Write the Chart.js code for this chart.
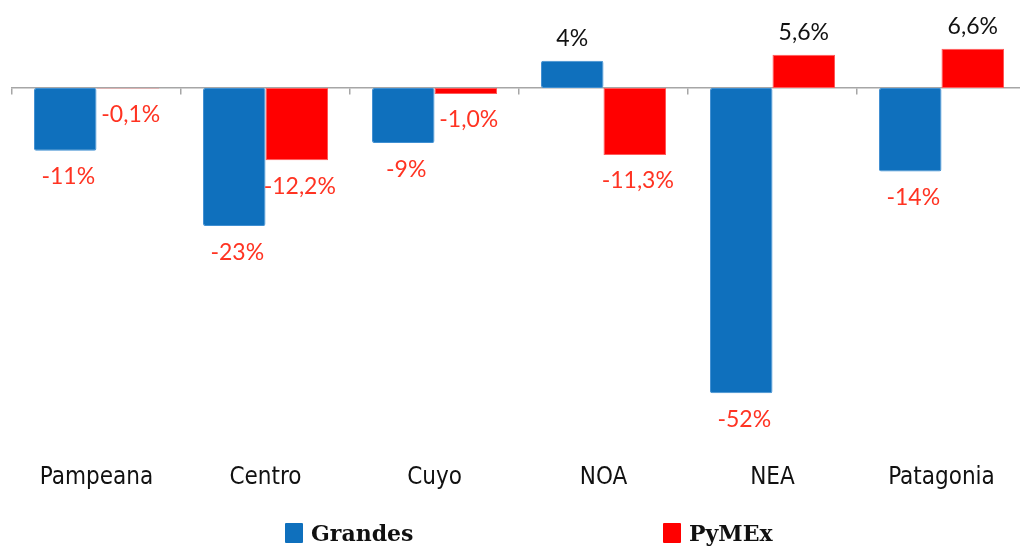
<!DOCTYPE html>
<html>
<head>
<meta charset="utf-8">
<script src="https://cdn.jsdelivr.net/npm/chart.js@4"></script>
<style>
  body { margin: 0; overflow: hidden; background: #fff; }
  #wrap { position: relative; width: 1040px; height: 546px; }
  .leyenda { position: absolute; top: 520px; display: flex; align-items: center;
    font-family: "DejaVu Serif", serif; font-weight: bold; font-size: 22px; color: #111; }
  .leyenda span.caja { display: inline-block; width: 18px; height: 20px; margin-right: 8px; border-radius: 1px; }
</style>
</head>
<body>
<div id="wrap">
  <canvas id="grafico" width="1040" height="546"></canvas>
  <div class="leyenda" style="left:285px"><span class="caja" style="background:#0f70bd"></span>Grandes</div>
  <div class="leyenda" style="left:663px"><span class="caja" style="background:#ff0000"></span>PyMEx</div>
</div>
<script>
// datos por region
const categorias = ['Pampeana', 'Centro', 'Cuyo', 'NOA', 'NEA', 'Patagonia'];
const grandes = [-10.6, -23.3, -9.3, 4.6, -51.5, -14.1];
const pymex = [-0.1, -12.2, -1.0, -11.3, 5.6, 6.6];
const etiquetasGrandes = ['-11%', '-23%', '-9%', '4%', '-52%', '-14%'];
const etiquetasPymex = ['-0,1%', '-12,2%', '-1,0%', '-11,3%', '5,6%', '6,6%'];

// etiquetas encima/debajo de cada barra
const etiquetasPlugin = {
  id: 'etiquetas',
  afterDatasetsDraw(chart) {
    const ctx = chart.ctx;
    const textos = [etiquetasGrandes, etiquetasPymex];
    ctx.save();
    ctx.font = '23px Lato';
    ctx.textAlign = 'center';
    ctx.textBaseline = 'middle';
    chart.data.datasets.forEach((ds, i) => {
      chart.getDatasetMeta(i).data.forEach((bar, j) => {
        const v = ds.data[j];
        if (v >= 0) {
          ctx.fillStyle = '#111111';
          ctx.fillText(textos[i][j], bar.x, bar.y - 22);
        } else {
          ctx.fillStyle = '#ff3322';
          ctx.fillText(textos[i][j], bar.x + 3, bar.y + 26);
        }
      });
    });
    ctx.restore();
  }
};

new Chart(document.getElementById('grafico'), {
  type: 'bar',
  data: {
    labels: categorias,
    datasets: [
      { label: 'Grandes', data: grandes, backgroundColor: '#0f70bd', borderColor: '#3f8fd2', borderWidth: 1, borderRadius: 2, borderSkipped: false },
      { label: 'PyMEx', data: pymex, backgroundColor: '#ff0000', borderColor: '#ff5a5a', borderWidth: 1, borderSkipped: false }
    ]
  },
  options: {
    responsive: false,
    animation: false,
    layout: { padding: { left: 12, right: 14, top: 28.7, bottom: 33.5 } },
    datasets: { bar: { categoryPercentage: 0.74, barPercentage: 1 } },
    plugins: { legend: { display: false }, tooltip: { enabled: false } },
    scales: {
      x: {
        grid: { display: false, drawTicks: false },
        border: { display: false },
        ticks: { color: '#111', padding: 20, font: { family: 'DejaVu Sans Condensed', size: 24 } }
      },
      // lijn op nul met streepjes tussen categorieen
      x2: {
        type: 'category',
        position: { y: 0 },
        offset: true,
        grid: { offset: true, drawOnChartArea: false, tickLength: 6, color: '#a6a6a6', lineWidth: 1.5 },
        border: { color: '#a6a6a6', width: 1.5 },
        ticks: { display: false }
      },
      y: { display: false, min: -60, max: 10 }
    }
  },
  plugins: [etiquetasPlugin]
});
</script>
</body>
</html>
